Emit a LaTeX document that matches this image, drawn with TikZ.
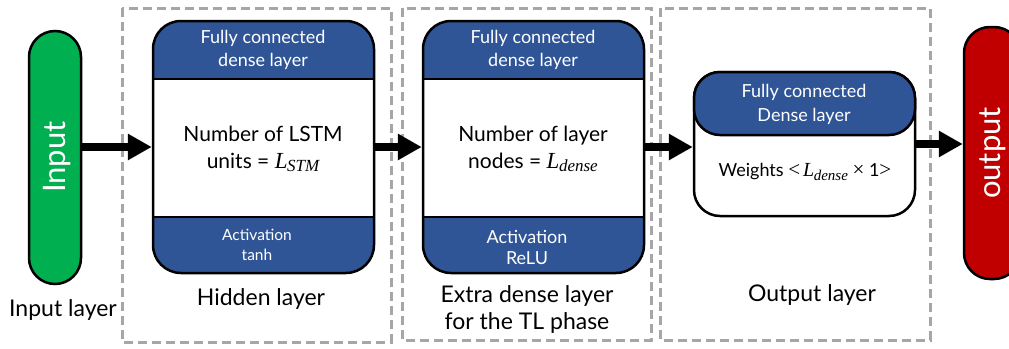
\documentclass[tikz,border=0pt]{standalone}
\usepackage{fontspec}
\setmainfont{Lato}
\newfontfamily\mfont{Liberation Serif}
\usetikzlibrary{arrows.meta}
\definecolor{bandblue}{HTML}{2F5597}
\definecolor{ingreen}{HTML}{00B050}
\definecolor{outred}{HTML}{C00000}
\definecolor{dashgray}{HTML}{A6A6A6}
\newcommand\Lsb[3]{{\mfont\itshape\fontsize{#1}{#1}\selectfont L\kern-0.02em\raisebox{-0.35ex}{\fontsize{#2}{#2}\selectfont #3}}}
\begin{document}
\begin{tikzpicture}[x=1pt,y=-1pt,
  layerbox/.style={draw=black, line width=2.5pt, rounded corners=28pt, fill=white,
    minimum width=221pt, minimum height=252pt, inner sep=0pt,
    path picture={
      \begin{scope}[sharp corners]
      \fill[bandblue] (path picture bounding box.north west) rectangle ([yshift=-58pt]path picture bounding box.north east);
      \fill[bandblue] (path picture bounding box.south west) rectangle ([yshift=56pt]path picture bounding box.south east);
      \draw[line width=2pt] ([yshift=-58pt]path picture bounding box.north west) -- ([yshift=-58pt]path picture bounding box.north east);
      \draw[line width=2pt] ([yshift=56pt]path picture bounding box.south west) -- ([yshift=56pt]path picture bounding box.south east);
      \end{scope}
    }},
  pill/.style={draw=black, line width=2.5pt, rounded corners=26pt, minimum width=52pt, minimum height=253pt, inner sep=0pt},
  dashbox/.style={draw=dashgray, line width=3pt, dash pattern=on 9pt off 5pt},
  arr/.style={line width=8pt, -{Triangle[length=24pt,width=25pt]}},
  bandtxt/.style={text=white, align=center, font=\fontsize{18}{23}\selectfont, inner sep=0pt},
  bodytxt/.style={text=black, align=center, font=\fontsize{21}{27}\selectfont, inner sep=0pt},
  captxt/.style={text=black, align=center, font=\fontsize{23}{27}\selectfont, inner sep=0pt},
]
\useasboundingbox (0,0) rectangle (1009,348);
% dashed groups
\draw[dashbox] (122,8) rectangle (391,342);
\draw[dashbox] (402,8) rectangle (651,340);
\draw[dashbox] (660,8) rectangle (930,340);
% input / output pills
\node[pill, fill=ingreen] (in) at (55,157.5) {};
\node[rotate=90, text=white, font=\fontsize{31}{31}\selectfont] (intxt) at (57,157) {Input};
\node[captxt] (incap) at (63,310) {Input layer};
\node[pill, fill=outred, minimum width=56pt, minimum height=252pt] (res) at (992,153) {};
\node[rotate=90, text=white, font=\fontsize{31}{31}\selectfont] (restxt) at (993,153) {output};
% hidden layer
\node[layerbox] (hid) at (263.5,147) {};
\node[bandtxt] (hid1) at (263,50) {Fully connected\\dense layer};
\node[bodytxt] (hid2) at (263,149) {Number of LSTM\\units = \Lsb{23}{17}{STM}};
\node[bandtxt, font=\fontsize{15.5}{20}\selectfont] (hid3) at (257,245) {Activation\\tanh};
\node[captxt] (hidcap) at (261,299) {Hidden layer};
% extra dense layer
\node[layerbox] (ext) at (533.5,147) {};
\node[bandtxt] (ext1) at (533,50) {Fully connected\\dense layer};
\node[bodytxt] (ext2) at (533,149) {Number of layer\\nodes = \Lsb{23}{17}{dense}};
\node[bandtxt, font=\fontsize{18}{21}\selectfont] (ext3) at (527,247) {Activation\\ReLU};
\node[captxt] (extcap) at (527,309) {Extra dense layer\\for the TL phase};
% output layer
\node[draw=black, line width=2.5pt, rounded corners=26pt, fill=white, minimum width=221pt, minimum height=144pt, inner sep=0pt] (out) at (804.5,144) {};
\node[draw=black, line width=2.5pt, rounded corners=26pt, fill=bandblue, minimum width=221pt, minimum height=63pt, inner sep=0pt] (outhead) at (804.5,103.5) {};
\node[bandtxt, font=\fontsize{18}{24}\selectfont] (outhtxt) at (804,104) {Fully connected\\Dense layer};
\node[bodytxt, font=\fontsize{18}{20}\selectfont] (outtxt) at (805,172) {Weights {\mfont\fontsize{21}{21}\selectfont <}\,\Lsb{20}{15}{dense} {\mfont\fontsize{21}{21}\selectfont ×} 1{\mfont\fontsize{21}{21}\selectfont >}};
\node[captxt] (outcap) at (812,295) {Output layer};
% arrows
\draw[arr] (in.east |- hid.west) -- (hid.west);
\draw[arr] (hid.east) -- (ext.west);
\draw[arr] (ext.east) -- (out.west |- ext.east);
\draw[arr] (out.east) -- (res.west |- out.east);
\end{tikzpicture}
\end{document}
